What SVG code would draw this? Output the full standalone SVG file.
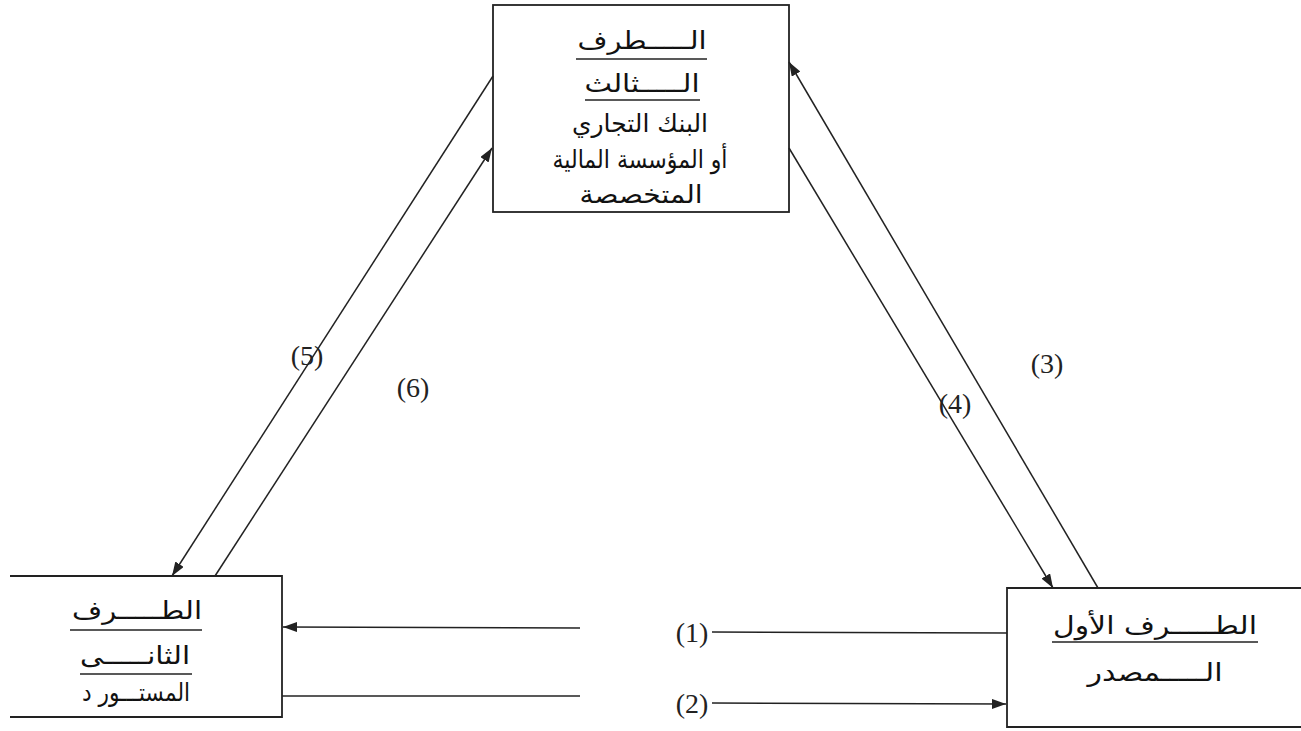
<svg xmlns="http://www.w3.org/2000/svg" width="1301" height="731" viewBox="0 0 1301 731">
<style>
.bx{fill:none;stroke:#222;stroke-width:1.8}
.ln{fill:none;stroke:#222;stroke-width:1.5}
.ul{stroke:#222;stroke-width:1.6}
.ar{font-family:"DejaVu Sans",sans-serif;font-size:25px;fill:#111;text-anchor:middle}
.num{font-family:"Liberation Serif",serif;font-size:28px;fill:#222;text-anchor:middle}
</style>
<defs>
<marker id="ah" viewBox="0 0 14 10" refX="14" refY="5" markerWidth="14" markerHeight="10" markerUnits="userSpaceOnUse" orient="auto">
<path d="M0,0 L14,5 L0,10 Z" fill="#222"/>
</marker>
</defs>
<rect width="1301" height="731" fill="#fff"/>
<g id="bank">
<rect class="bx" x="493" y="5" width="296" height="207"/>
<text class="ar" x="642" y="49" textLength="129" lengthAdjust="spacingAndGlyphs">الـــــطرف</text>
<line class="ul" x1="576" y1="59" x2="707" y2="59"/>
<text class="ar" x="642" y="92" textLength="115" lengthAdjust="spacingAndGlyphs">الـــــثالث</text>
<line class="ul" x1="585" y1="100" x2="700" y2="100"/>
<text class="ar" x="640" y="132" textLength="136" lengthAdjust="spacingAndGlyphs">البنك التجاري</text>
<text class="ar" x="640" y="168" textLength="175" lengthAdjust="spacingAndGlyphs">أو المؤسسة المالية</text>
<text class="ar" x="641" y="203" textLength="123" lengthAdjust="spacingAndGlyphs">المتخصصة</text>
</g>
<g id="importer">
<path class="bx" d="M10,576 H282 V717 H10"/>
<text class="ar" x="137" y="619" textLength="130" lengthAdjust="spacingAndGlyphs">الطـــــرف</text>
<line class="ul" x1="70" y1="630" x2="202" y2="630"/>
<text class="ar" x="135" y="664" textLength="110" lengthAdjust="spacingAndGlyphs">الثانـــــى</text>
<line class="ul" x1="80" y1="674" x2="192" y2="674"/>
<text class="ar" x="136" y="701" textLength="108" lengthAdjust="spacingAndGlyphs">المستـــور د</text>
</g>
<g id="exporter">
<path class="bx" d="M1301,588 H1007 V727 H1301"/>
<text class="ar" x="1155" y="634" textLength="204" lengthAdjust="spacingAndGlyphs">الطـــــرف الأول</text>
<line class="ul" x1="1052" y1="642" x2="1258" y2="642"/>
<text class="ar" x="1155" y="681" textLength="135" lengthAdjust="spacingAndGlyphs">الـــــمصدر</text>
</g>
<g id="connectors">
<line class="ln" x1="493" y1="76" x2="172" y2="576" marker-end="url(#ah)"/>
<line class="ln" x1="215" y1="576" x2="492" y2="148" marker-end="url(#ah)"/>
<line class="ln" x1="1098" y1="588" x2="789" y2="62" marker-end="url(#ah)"/>
<line class="ln" x1="789" y1="148" x2="1053" y2="588" marker-end="url(#ah)"/>
<line class="ln" x1="580" y1="628" x2="283" y2="627" marker-end="url(#ah)"/>
<line class="ln" x1="282" y1="696" x2="580" y2="696"/>
<line class="ln" x1="712" y1="632" x2="1007" y2="633"/>
<line class="ln" x1="712" y1="703" x2="1006" y2="704" marker-end="url(#ah)"/>
</g>
<g id="labels">
<text class="num" x="692" y="642">(1)</text>
<text class="num" x="692" y="713">(2)</text>
<text class="num" x="1047" y="373">(3)</text>
<text class="num" x="955" y="413">(4)</text>
<text class="num" x="307" y="365">(5)</text>
<text class="num" x="413" y="397">(6)</text>
</g>
</svg>
